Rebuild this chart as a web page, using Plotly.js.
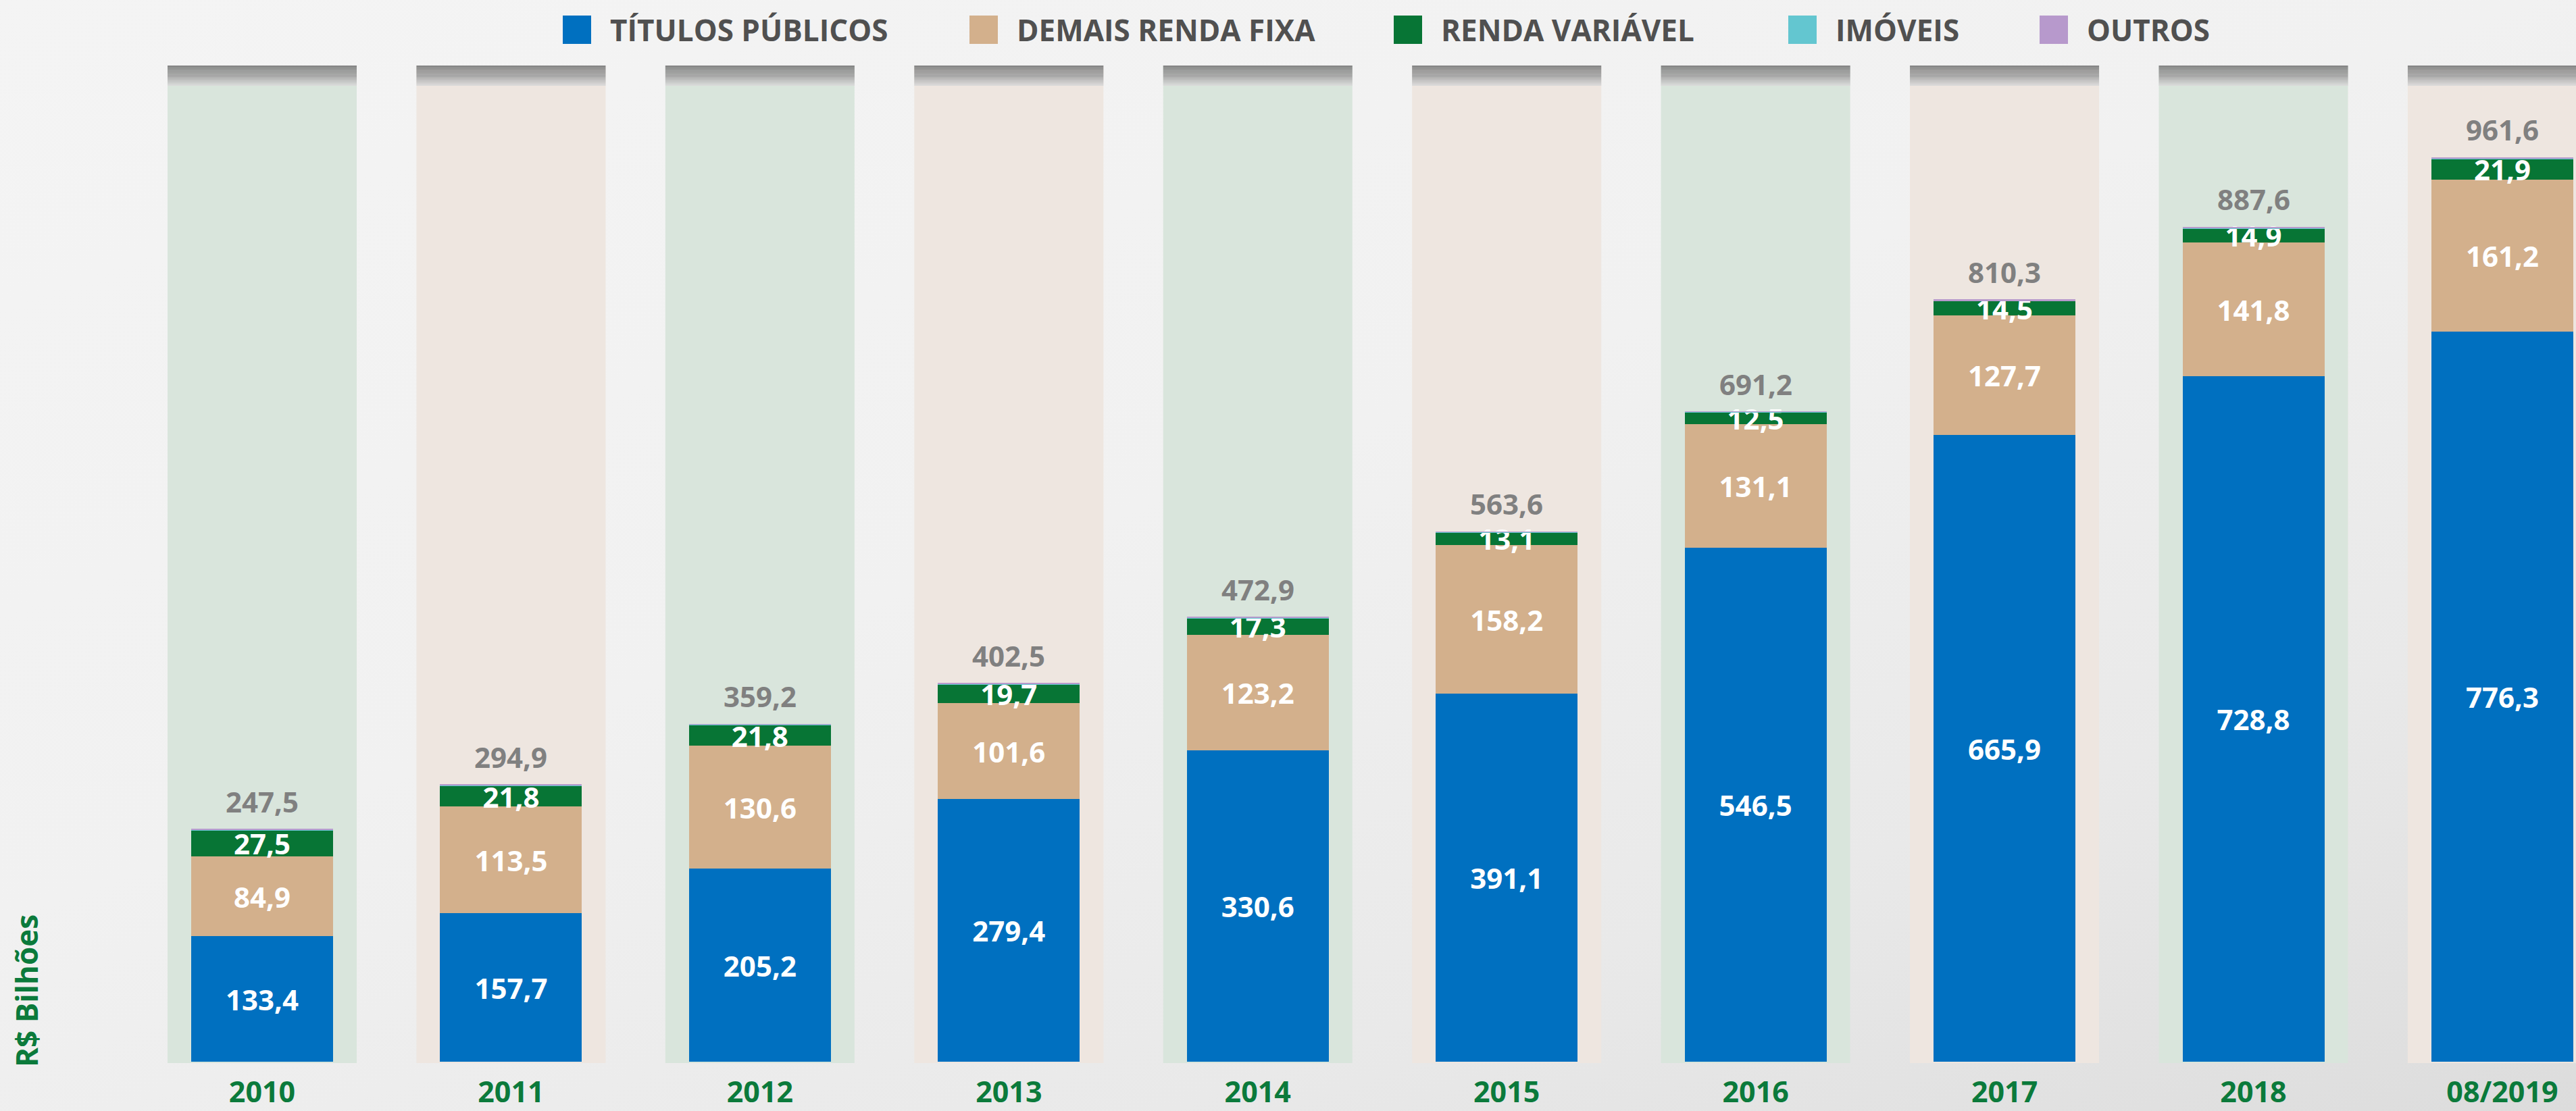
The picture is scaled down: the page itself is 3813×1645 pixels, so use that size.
<!DOCTYPE html>
<html>
<head>
<meta charset="utf-8">
<script src="https://cdn.plot.ly/plotly-3.0.1.min.js"></script>
<style>
  html, body { margin: 0; padding: 0; overflow: hidden; }
  body { width: 3813px; height: 1645px;
    background: linear-gradient(160deg, #f4f4f4 0%, #f1f1f1 45%, #e9e9e9 75%, #dcdcdc 100%); }
  #chart { width: 3813px; height: 1645px; }
</style>
</head>
<body>
<div id="chart"></div>
<script>
// ---- Data (R$ bilhões) ----
const categorias = ['2010', '2011', '2012', '2013', '2014', '2015', '2016', '2017', '2018', '08/2019'];
const titulosPublicos = [133.4, 157.7, 205.2, 279.4, 330.6, 391.1, 546.5, 665.9, 728.8, 776.3];
const demaisRendaFixa = [84.9, 113.5, 130.6, 101.6, 123.2, 158.2, 131.1, 127.7, 141.8, 161.2];
const rendaVariavel = [27.5, 21.8, 21.8, 19.7, 17.3, 13.1, 12.5, 14.5, 14.9, 21.9];
const imoveis = [0.4, 0.4, 0.3, 0.3, 0.3, 0.2, 0.2, 0.2, 0.2, 0.2];
const outros = [1.3, 1.5, 1.3, 1.5, 1.5, 1.0, 0.9, 2.0, 1.9, 2.0];
const totais = [247.5, 294.9, 359.2, 402.5, 472.9, 563.6, 691.2, 810.3, 887.6, 961.6];
const nomesSeries = ['TÍTULOS PÚBLICOS', 'DEMAIS RENDA FIXA', 'RENDA VARIÁVEL', 'IMÓVEIS', 'OUTROS'];
const tituloEixoY = 'R$ Bilhões';

// ---- Styles ----
const W = 3813, H = 1645;
const marginT = 97, marginB = 73;
const plotH = H - marginT - marginB;
const cores = ['#0070c0', '#d3b08c', '#077535', '#63c6d0', '#b799cc'];
const font = 'Open Sans, Noto Sans, sans-serif';
const barWidth = 0.57;
const colWidth = 0.76;
const xRange = [-1.0531, 9.296];
const yRange = [0, 1058.9];
const verde = '#0b7a3b';

const series = [titulosPublicos, demaisRendaFixa, rendaVariavel, imoveis, outros];
const comRotulo = [true, true, true, false, false];

const traces = series.map((vals, k) => ({
  type: 'bar',
  name: nomesSeries[k],
  x: categorias,
  y: vals,
  width: barWidth,
  marker: { color: cores[k], line: { width: 0 } },
  texttemplate: comRotulo[k] ? '%{y:.1f}' : '',
  textposition: comRotulo[k] ? 'inside' : 'none',
  insidetextanchor: 'middle',
  textangle: 0,
  constraintext: 'none',
  insidetextfont: { family: font, size: 42, color: '#ffffff', weight: 'bold' },
  hoverinfo: 'skip',
  showlegend: false
}));

// ---- Background columns with dark header fade ----
function hexToRgb(h) { return [1, 3, 5].map(i => parseInt(h.substr(i, 2), 16)); }
function mix(a, b, t) {
  const A = hexToRgb(a), B = hexToRgb(b);
  return 'rgb(' + A.map((v, i) => Math.round(v + (B[i] - v) * t)).join(',') + ')';
}
const colCores = ['#d9e5dc', '#eee6e0'];
const shapes = [];
categorias.forEach((c, i) => {
  const cc = colCores[i % 2];
  shapes.push({ type: 'rect', layer: 'below', xref: 'x', yref: 'paper',
    x0: i - colWidth / 2, x1: i + colWidth / 2, y0: -2 / plotH, y1: 1,
    fillcolor: cc, line: { width: 0 } });
  const N = 16, hdr = 30;
  for (let k = 0; k < N; k++) {
    const t = Math.pow(k / (N - 1), 1.4);
    shapes.push({ type: 'rect', layer: 'below', xref: 'x', yref: 'paper',
      x0: i - colWidth / 2, x1: i + colWidth / 2,
      y1: 1 - (k * hdr / N) / plotH, y0: 1 - ((k + 1) * hdr / N) / plotH,
      fillcolor: mix('#878787', '#d8d8d8', t), line: { width: 0 } });
  }
});

// ---- Manual legend (large squares) ----
const legendMarkerX = [833, 1435, 2063, 2647, 3019];
const legendY = 44, legendBox = 42;
const annotations = [];
nomesSeries.forEach((nm, k) => {
  const x0 = legendMarkerX[k];
  shapes.push({ type: 'rect', xref: 'paper', yref: 'paper',
    x0: x0 / W, x1: (x0 + legendBox) / W,
    y0: (H - marginB - (legendY + legendBox / 2)) / plotH,
    y1: (H - marginB - (legendY - legendBox / 2)) / plotH,
    fillcolor: cores[k], line: { width: 0 } });
  annotations.push({ xref: 'paper', yref: 'paper',
    x: (x0 + legendBox + 26) / W, y: (H - marginB - legendY) / plotH,
    xanchor: 'left', yanchor: 'middle', showarrow: false, text: nm,
    font: { family: font, size: 44, color: '#505050', weight: 'bold' } });
});

// ---- Totals above bars (x given as category index) ----
categorias.forEach((c, i) => {
  annotations.push({ xref: 'x', yref: 'y', x: i, y: totais[i],
    text: totais[i].toFixed(1).replace('.', ','), showarrow: false,
    xanchor: 'center', yanchor: 'middle', yshift: 41,
    font: { family: font, size: 42, color: '#808080', weight: 'bold' } });
});

// ---- Y title ----
annotations.push({ xref: 'paper', yref: 'paper', x: 39 / W, y: (H - marginB - 1467) / plotH,
  text: tituloEixoY, textangle: -90, showarrow: false, xanchor: 'center', yanchor: 'middle',
  font: { family: font, size: 44, color: verde, weight: 'bold' } });

const layout = {
  width: W, height: H,
  margin: { l: 0, r: 0, t: marginT, b: marginB, pad: 0 },
  paper_bgcolor: 'rgba(0,0,0,0)',
  plot_bgcolor: 'rgba(0,0,0,0)',
  barmode: 'stack',
  separators: ',.',
  showlegend: false,
  xaxis: {
    type: 'category', range: xRange, fixedrange: true,
    showgrid: false, zeroline: false, showline: false, ticks: '',
    tickfont: { family: font, size: 43, color: verde, weight: 'bold' },
    ticklabelstandoff: 16
  },
  yaxis: {
    range: yRange, fixedrange: true, visible: false,
    showgrid: false, zeroline: false
  },
  shapes: shapes,
  annotations: annotations
};

Plotly.newPlot('chart', traces, layout, { displayModeBar: false, staticPlot: true });
</script>
</body>
</html>
